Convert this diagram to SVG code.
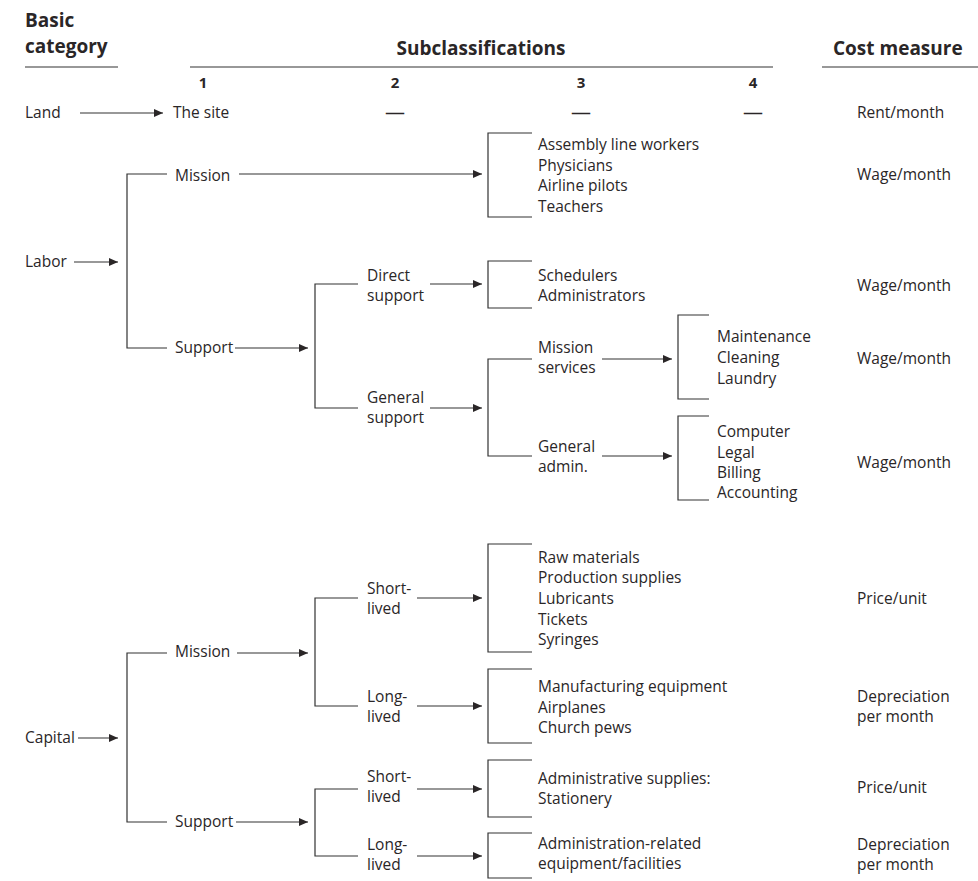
<svg xmlns="http://www.w3.org/2000/svg" width="978" height="881" viewBox="0 0 978 881">
<style>
text{font-family:"Open Sans","Noto Sans","Liberation Sans",sans-serif;fill:#2a2627;}
.t{font-size:15.5px;}
.h{font-size:19px;font-weight:bold;}
.n{font-size:15px;font-weight:bold;text-anchor:middle;}
.m{text-anchor:middle;}
.d{font-size:20px;text-anchor:middle;}
.ln{fill:none;stroke:#333;stroke-width:1.2;}
.ar{fill:none;stroke:#333;stroke-width:1.2;marker-end:url(#ah);}
</style>
<defs>
<marker id="ah" markerUnits="userSpaceOnUse" markerWidth="10" markerHeight="10" refX="9" refY="4" orient="auto">
<path d="M0,0 L9,4 L0,8 Z" fill="#2a2627"/>
</marker>
</defs>
<rect width="978" height="881" fill="#fff"/>

<g id="header">
<text class="h" x="25" y="27">Basic</text>
<text class="h" x="25" y="53">category</text>
<text class="h m" x="481" y="55">Subclassifications</text>
<text class="h" x="833" y="55">Cost measure</text>
<line class="ln" x1="25" y1="67" x2="118" y2="67"/>
<line class="ln" x1="190" y1="67" x2="773" y2="67"/>
<line class="ln" x1="822" y1="67" x2="978" y2="67"/>
<text class="n" x="203" y="88">1</text>
<text class="n" x="395" y="88">2</text>
<text class="n" x="581" y="88">3</text>
<text class="n" x="753" y="88">4</text>
</g>

<g id="connectors">
<!-- Land -->
<line class="ar" x1="80" y1="113" x2="163" y2="113"/>
<!-- Labor -->
<line class="ar" x1="74" y1="262" x2="118" y2="262"/>
<path class="ln" d="M167,174 H127 V348 H167"/>
<line class="ar" x1="239" y1="174" x2="482" y2="174"/>
<path class="ln" d="M532,133 H488 V217 H532"/>
<line class="ar" x1="235" y1="348" x2="308" y2="348"/>
<path class="ln" d="M358,284 H315 V408 H358"/>
<line class="ar" x1="430" y1="284" x2="482" y2="284"/>
<path class="ln" d="M532,261 H488 V308 H532"/>
<line class="ar" x1="430" y1="408" x2="482" y2="408"/>
<path class="ln" d="M532,359 H488 V456 H532"/>
<line class="ar" x1="602" y1="359" x2="672" y2="359"/>
<path class="ln" d="M709,315 H678 V399 H709"/>
<line class="ar" x1="602" y1="456" x2="672" y2="456"/>
<path class="ln" d="M709,416 H678 V500 H709"/>
<!-- Capital -->
<line class="ar" x1="78" y1="738" x2="118" y2="738"/>
<path class="ln" d="M167,653 H127 V822 H167"/>
<line class="ar" x1="237" y1="653" x2="308" y2="653"/>
<path class="ln" d="M358,598 H315 V706 H358"/>
<line class="ar" x1="417" y1="598" x2="482" y2="598"/>
<path class="ln" d="M532,544 H488 V652 H532"/>
<line class="ar" x1="417" y1="706" x2="482" y2="706"/>
<path class="ln" d="M532,669 H488 V743 H532"/>
<line class="ar" x1="236" y1="822" x2="308" y2="822"/>
<path class="ln" d="M358,789 H315 V856 H358"/>
<line class="ar" x1="417" y1="789" x2="482" y2="789"/>
<path class="ln" d="M532,760 H488 V817 H532"/>
<line class="ar" x1="417" y1="856" x2="482" y2="856"/>
<path class="ln" d="M532,833 H488 V878 H532"/>
</g>

<g id="land">
<text class="t" x="25" y="118">Land</text>
<text class="t" x="173" y="118">The site</text>
<text class="d" x="395" y="119">—</text>
<text class="d" x="581" y="119">—</text>
<text class="d" x="753" y="119">—</text>
<text class="t" x="857" y="118">Rent/month</text>
</g>

<g id="labor">
<text class="t" x="25" y="267">Labor</text>
</g>
<g id="labor-mission">
<text class="t" x="175" y="181">Mission</text>
</g>
<g id="labor-mission-items">
<text class="t" x="538" y="150">Assembly line workers</text>
<text class="t" x="538" y="171">Physicians</text>
<text class="t" x="538" y="191">Airline pilots</text>
<text class="t" x="538" y="212">Teachers</text>
<text class="t" x="857" y="180">Wage/month</text>
</g>
<g id="labor-support">
<text class="t" x="175" y="353">Support</text>
</g>
<g id="direct-support">
<text class="t" x="367" y="281">Direct</text>
<text class="t" x="367" y="301">support</text>
</g>
<g id="direct-support-items">
<text class="t" x="538" y="281">Schedulers</text>
<text class="t" x="538" y="301">Administrators</text>
<text class="t" x="857" y="291">Wage/month</text>
</g>
<g id="general-support">
<text class="t" x="367" y="403">General</text>
<text class="t" x="367" y="423">support</text>
</g>
<g id="mission-services">
<text class="t" x="538" y="353">Mission</text>
<text class="t" x="538" y="373">services</text>
</g>
<g id="mission-services-items">
<text class="t" x="717" y="342">Maintenance</text>
<text class="t" x="717" y="363">Cleaning</text>
<text class="t" x="717" y="384">Laundry</text>
<text class="t" x="857" y="364">Wage/month</text>
</g>
<g id="general-admin">
<text class="t" x="538" y="452">General</text>
<text class="t" x="538" y="472">admin.</text>
</g>
<g id="general-admin-items">
<text class="t" x="717" y="437">Computer</text>
<text class="t" x="717" y="458">Legal</text>
<text class="t" x="717" y="478">Billing</text>
<text class="t" x="717" y="498">Accounting</text>
<text class="t" x="857" y="468">Wage/month</text>
</g>

<g id="capital">
<text class="t" x="25" y="743">Capital</text>
</g>
<g id="capital-mission">
<text class="t" x="175" y="657">Mission</text>
</g>
<g id="cm-short">
<text class="t" x="367" y="594">Short-</text>
<text class="t" x="367" y="614">lived</text>
</g>
<g id="cm-short-items">
<text class="t" x="538" y="563">Raw materials</text>
<text class="t" x="538" y="583">Production supplies</text>
<text class="t" x="538" y="604">Lubricants</text>
<text class="t" x="538" y="625">Tickets</text>
<text class="t" x="538" y="645">Syringes</text>
<text class="t" x="857" y="604">Price/unit</text>
</g>
<g id="cm-long">
<text class="t" x="367" y="702">Long-</text>
<text class="t" x="367" y="722">lived</text>
</g>
<g id="cm-long-items">
<text class="t" x="538" y="692">Manufacturing equipment</text>
<text class="t" x="538" y="713">Airplanes</text>
<text class="t" x="538" y="733">Church pews</text>
<text class="t" x="857" y="702">Depreciation</text>
<text class="t" x="857" y="722">per month</text>
</g>
<g id="capital-support">
<text class="t" x="175" y="827">Support</text>
</g>
<g id="cs-short">
<text class="t" x="367" y="782">Short-</text>
<text class="t" x="367" y="802">lived</text>
</g>
<g id="cs-short-items">
<text class="t" x="538" y="784">Administrative supplies:</text>
<text class="t" x="538" y="804">Stationery</text>
<text class="t" x="857" y="793">Price/unit</text>
</g>
<g id="cs-long">
<text class="t" x="367" y="850">Long-</text>
<text class="t" x="367" y="870">lived</text>
</g>
<g id="cs-long-items">
<text class="t" x="538" y="849">Administration-related</text>
<text class="t" x="538" y="869">equipment/facilities</text>
<text class="t" x="857" y="850">Depreciation</text>
<text class="t" x="857" y="870">per month</text>
</g>
</svg>
